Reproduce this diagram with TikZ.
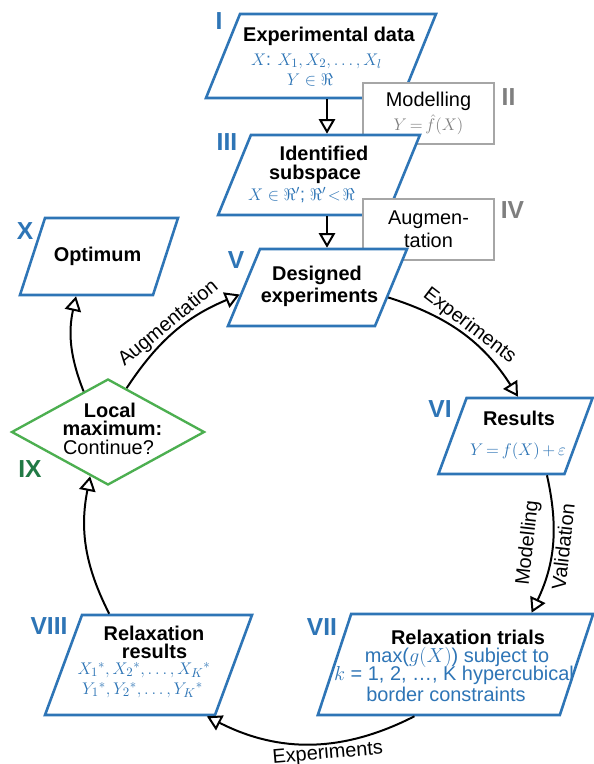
\documentclass[tikz,border=0pt]{standalone}
\usepackage{amsmath}
\usepackage{amssymb}
\usepackage{fontspec}
\setmainfont{Liberation Sans}
\usetikzlibrary{arrows.meta}
\usetikzlibrary{calc}
\usetikzlibrary{shapes.geometric}
\definecolor{myblue}{HTML}{2E75B6}
\definecolor{boxgray}{HTML}{A6A6A6}
\definecolor{txtgray}{HTML}{7F7F7F}
\definecolor{darkgreen}{HTML}{217A45}
\definecolor{litegreen}{HTML}{4CAF50}
\newcommand{\dd}{\mathinner{.\,.\,.}} % tight dots
\tikzset{
  para/.style n args={3}{draw=myblue, line width=2.2pt, fill=white, inner sep=0pt,
    minimum width=#1*0.03cm, minimum height=#2*0.03cm, xslant=#3},
  gbox/.style={draw=boxgray, line width=2pt, fill=white, align=center,
    minimum width=131*0.03cm, minimum height=61*0.03cm,
    font=\fontsize{17}{20}\selectfont},
  head/.style={font=\fontsize{17}{20}\selectfont\bfseries, inner sep=0pt},
  plain/.style={font=\fontsize{17}{20}\selectfont, inner sep=0pt},
  formula/.style={text=myblue, font=\fontsize{17}{20}\selectfont, inner sep=0pt},
  mathf/.style={text=myblue, font=\fontsize{15}{18}\selectfont, inner sep=0pt},
  num/.style={text=myblue, font=\fontsize{21}{21}\selectfont\bfseries, inner sep=0pt},
  flow/.style={line width=1.7pt, -{Triangle[length=12.5pt, width=14pt, fill=white]}},
  arclabel/.style={font=\fontsize{17}{20}\selectfont, sloped, inner sep=0pt}
}

\begin{document}
\begin{tikzpicture}[x=0.03cm, y=-0.03cm]

    \fill [white] (0,0) rectangle (593,764);
    \useasboundingbox (0,0) rectangle (593,764); % keeps the page at the picture size

    \coordinate (axis) at (327,0); % vertical line of the top arrows

    % boxes, drawn top to bottom so that the lower one covers the grey one
    \node [para={196}{84}{0.405}] (data) at (321,56) {};
    \node [gbox] (model) at (428.5,113.5) {Modelling\\[1pt]{\fontsize{15}{18}\selectfont\textcolor{txtgray}{$Y\,{=}\,\hat{f}(X)$}}};
    \node [para={169}{80}{0.41}] (subsp) at (319,175) {};
    \node [gbox] (augm) at (428.5,229.5) {Augmen-\\tation};
    \node [para={147}{77}{0.416}] (design) at (317.5,287.5) {};
    \node [para={133}{77}{0.325}] (optim) at (99,256.5) {};
    \node [para={126}{76}{0.37}] (result) at (515.5,436) {};
    \node [para={242}{101}{0.33}] (trials) at (455.5,664.5) {};
    \node [para={170}{100}{0.37}] (relax) at (148.5,665) {};
    \node [diamond, draw=litegreen, line width=2pt, fill=white, inner sep=0pt,
        minimum width=193*0.03cm, minimum height=106*0.03cm] (decide) at (108,432) {};

    % I
    \node [num] (numI) at (219,21) {I};
    \node [head] (dataH) at (329,36) {Experimental data};
    \node [mathf] (dataX) at (316.5,61) {$X$: $X_1, X_2, \dd, X_l$};
    \node [mathf] (dataY) at (310,80) {$Y \in \Re$};
    % II
    \node [num, text=txtgray] (numII) at (508.5,97.5) {II};
    % III
    \node [num] (numIII) at (227,142.5) {III};
    \node [head] (subspA) at (324,153.5) {Identified};
    \node [head] (subspB) at (315,174.5) {subspace};
    \node [mathf] (subspX) at (301.5,195) {$X \in \Re'$; $\Re'\!<\!\Re$};
    % IV
    \node [num, text=txtgray] (numIV) at (512.5,210) {IV};
    % V
    \node [num] (numV) at (236,260) {V};
    \node [head] (designA) at (317,275) {Designed};
    \node [head] (designB) at (319.5,297) {experiments};
    % VI
    \node [num] (numVI) at (440,409) {VI};
    \node [head] (resultH) at (519,418) {Results};
    \node [mathf] (resultY) at (518,451) {$Y\,{=}\,f(X)\,{+}\,\varepsilon$};
    % VII
    \node [num] (numVII) at (322,627) {VII};
    \node [head] (trialsH) at (468,637) {Relaxation trials};
    \node [formula] (trialsA) at (457,657) {max($g(X)$) subject to};
    \node [formula] (trialsB) at (454,675) {$k$ = 1, 2, \ldots, $\mathrm{K}$ hypercubical};
    \node [formula] (trialsC) at (446,694) {border constraints};
    % VIII
    \node [num] (numVIII) at (49,626) {VIII};
    \node [head] (relaxA) at (154,633) {Relaxation};
    \node [head] (relaxB) at (154.5,651) {results};
    \node [mathf] (relaxX) at (144,670) {$X_1{}^*, X_2{}^*, \dd, X_K{}^*$};
    \node [mathf] (relaxY) at (142.5,690) {$Y_1{}^*, Y_2{}^*, \dd, Y_K{}^*$};
    % IX
    \node [num, text=darkgreen] (numIX) at (30,469) {IX};
    \node [head] (decideA) at (110,410) {Local};
    \node [head] (decideB) at (112.5,428) {maximum:};
    \node [plain] (decideC) at (108.5,447) {Continue?};
    % X
    \node [num] (numX) at (25,231) {X};
    \node [head] (optimH) at (97.5,256) {Optimum};

    % straight arrows down the top
    \draw [flow] (data.south -| axis) -- (subsp.north -| axis);
    \draw [flow] (subsp.south -| axis) -- (design.north -| axis);

    % the loop, clockwise
    \draw [flow] ($(design.east)+(-4,10)$)
        to [bend left=20] node [arclabel, above] {Experiments} ($(result.north)+(-12,0)$);
    \draw [flow] ($(result.south)+(46,0)$)
        to [bend left=19] node [arclabel, above, inner sep=12pt] {Modelling}
        node [arclabel, below, inner sep=2pt] {Validation} ($(trials.north)+(59,0)$);
    \draw [flow] ($(trials.south)+(-24,0)$)
        to [bend left=27] node [arclabel, below, pos=0.42] {Experiments} ($(relax.south east)+(-9,0)$);
    \draw [flow] ($(relax.north west)+(28,0)$)
        to [bend left=19] (decide.248);
    \draw [flow] (decide.67)
        to [bend left=17] node [arclabel, above] {Augmentation} ($(design.west)+(-3,7)$);
    \draw [flow] (decide.121)
        to [bend left=17] ($(optim.south)+(-10,0)$);

\end{tikzpicture}
\end{document}
